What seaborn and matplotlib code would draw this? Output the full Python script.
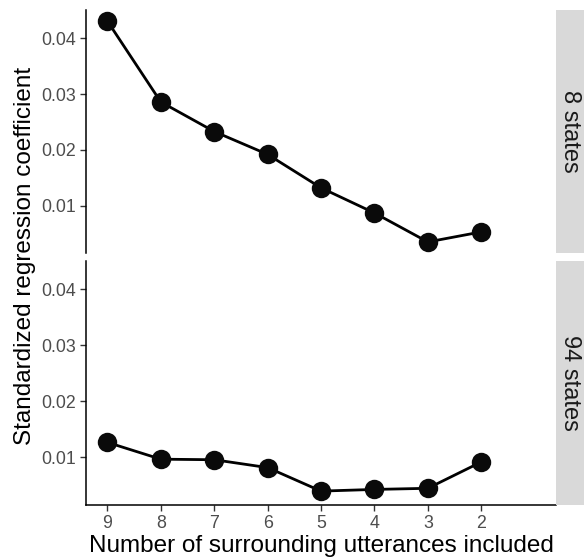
import matplotlib
matplotlib.use("Agg")
import matplotlib.pyplot as plt
import seaborn as sns
import pandas as pd

# Data
n_utterances = [9, 8, 7, 6, 5, 4, 3, 2]
coef_8_states = [0.0431, 0.0286, 0.0233, 0.0192, 0.0132, 0.0087, 0.0035, 0.0053]
coef_94_states = [0.0127, 0.0097, 0.0096, 0.0082, 0.0040, 0.0043, 0.0045, 0.0092]
panels = ["8 states", "94 states"]
y_ticks = [0.01, 0.02, 0.03, 0.04]
y_tick_labels = ["0.01", "0.02", "0.03", "0.04"]

df = pd.DataFrame({
    "n": n_utterances * 2,
    "coef": coef_8_states + coef_94_states,
    "states": [panels[0]] * len(n_utterances) + [panels[1]] * len(n_utterances),
})

sns.set_theme(style="white")
plt.rcParams["font.family"] = ["Liberation Sans", "DejaVu Sans"]

W, H = 584, 560
fig = plt.figure(figsize=(W / 100, H / 100), dpi=100)

left, right = 86, 556
panel_px = [(10, 253), (261, 505)]
allv = coef_8_states + coef_94_states
lo, hi = min(allv), max(allv)
pad = (hi - lo) * 0.05

for i, (st, (t, b)) in enumerate(zip(panels, panel_px)):
    ax = fig.add_axes([left / W, 1 - b / H, (right - left) / W, (b - t) / H])
    sub = df[df["states"] == st]
    sns.lineplot(data=sub, x="n", y="coef", ax=ax, color="black", lw=2.0,
                 marker="o", markersize=14, markeredgewidth=0,
                 markerfacecolor="#0a0a0a", legend=False)
    ax.set_xlim(9.4, 0.6)
    ax.set_ylim(lo - pad, hi + pad)
    ax.set_yticks(y_ticks)
    ax.set_yticklabels(y_tick_labels)
    ax.set_xticks(n_utterances)
    ax.set_xlabel("")
    ax.set_ylabel("")
    for s in ["top", "right"]:
        ax.spines[s].set_visible(False)
    ax.spines["left"].set_color("black")
    ax.spines["left"].set_linewidth(1.1)
    ax.spines["bottom"].set_color("black")
    ax.spines["bottom"].set_linewidth(1.1)
    ax.tick_params(axis="y", which="both", left=True, length=4, width=1.0,
                   color="#333333", labelcolor="#4D4D4D", labelsize=12.8, pad=3)
    if i == 0:
        ax.spines["bottom"].set_visible(False)
        ax.tick_params(axis="x", bottom=False, labelbottom=False)
    else:
        ax.tick_params(axis="x", bottom=True, length=4, width=1.0,
                       color="#333333", labelcolor="#4D4D4D", labelsize=12.8, pad=3)
    # strip
    sax = fig.add_axes([right / W, 1 - b / H, (W - right) / W, (b - t) / H])
    sax.set_facecolor("#D9D9D9")
    sax.set_xticks([])
    sax.set_yticks([])
    for s in sax.spines.values():
        s.set_visible(False)
    sax.text(0.5, 0.5, st, rotation=-90, ha="center", va="center",
             fontsize=17, color="#1A1A1A", transform=sax.transAxes)

fig.text(left / W + (right - left) / W / 2, 1 - 546 / H,
         "Number of surrounding utterances included",
         ha="center", va="center", fontsize=17.5, color="black")
fig.text(25 / W, 1 - 256 / H, "Standardized regression coefficient",
         rotation=90, ha="center", va="center", fontsize=17.5, color="black")

fig.savefig("out.png", dpi=100, facecolor="white")
